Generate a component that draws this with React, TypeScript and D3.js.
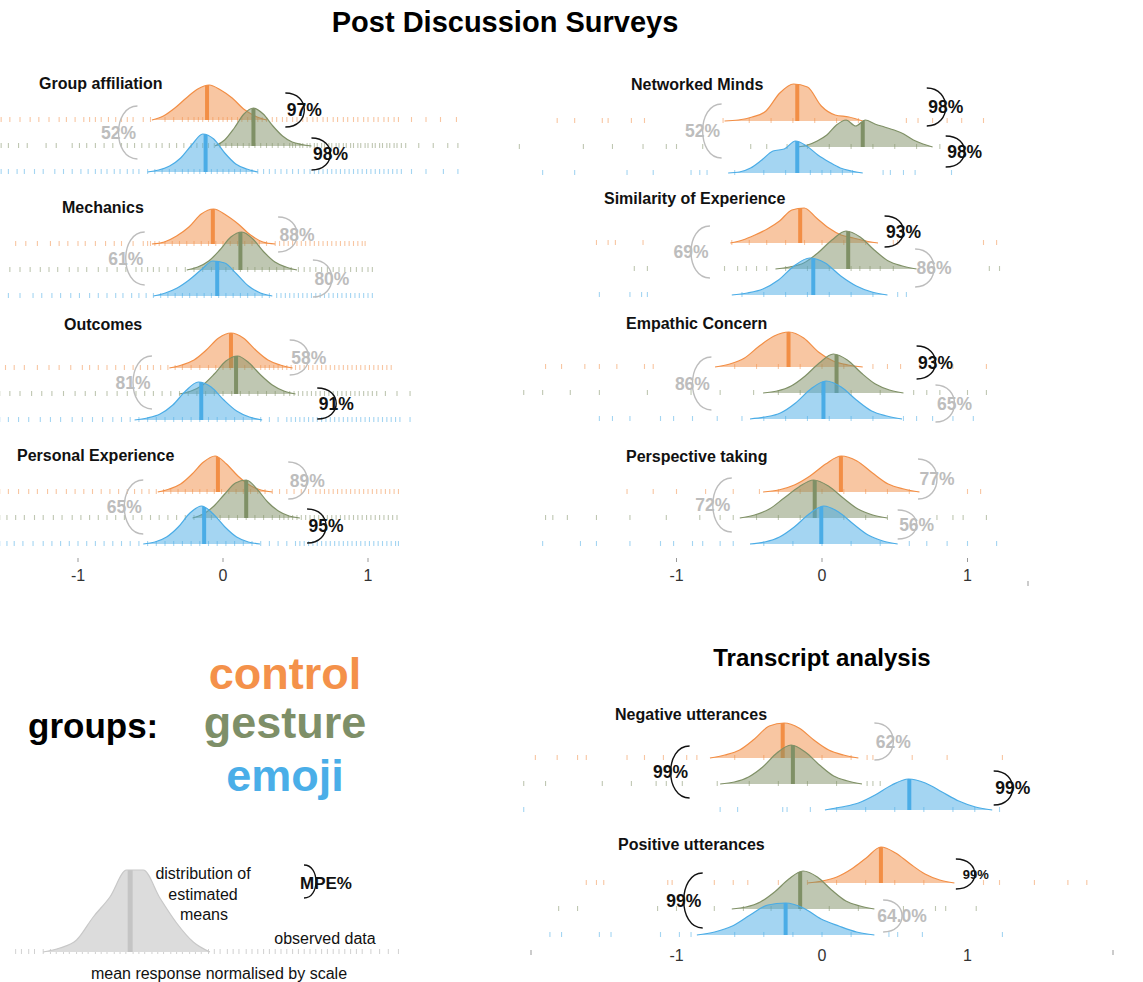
import React from 'react';
import * as d3 from 'd3';

// ---------------- DATA ----------------
const panelNames = [
  'Group affiliation', 'Mechanics', 'Outcomes', 'Personal Experience',
  'Networked Minds', 'Similarity of Experience', 'Empathic Concern', 'Perspective taking',
  'Negative utterances', 'Positive utterances',
];
const groupNames = ['control', 'gesture', 'emoji'];

// posterior means (normalised response)
const meanControl = [-0.11, -0.07, 0.055, -0.035, -0.17, -0.15, -0.23, 0.13, -0.27, 0.405];
const meanGesture = [0.21, 0.12, 0.09, 0.16, 0.28, 0.18, 0.10, -0.05, -0.20, -0.15];
const meanEmoji = [-0.12, -0.04, -0.15, -0.13, -0.17, -0.06, 0.01, -0.005, 0.60, -0.25];

// support of the estimated-mean distributions [lo, hi]
const rangeControl = [[-0.49, 0.30], [-0.49, 0.36], [-0.37, 0.48], [-0.45, 0.34], [-0.67, 0.28], [-0.63, 0.385], [-0.735, 0.28], [-0.405, 0.67], [-0.77, 0.25], [-0.10, 0.91]];
const rangeGesture = [[-0.055, 0.61], [-0.25, 0.51], [-0.30, 0.50], [-0.21, 0.53], [-0.165, 0.76], [-0.32, 0.65], [-0.405, 0.56], [-0.565, 0.45], [-0.70, 0.275], [-0.62, 0.36]];
const rangeEmoji = [[-0.52, 0.24], [-0.48, 0.34], [-0.61, 0.27], [-0.55, 0.255], [-0.645, 0.28], [-0.62, 0.45], [-0.495, 0.55], [-0.495, 0.52], [0.02, 1.17], [-0.86, 0.36]];

// density values, evenly spaced across each support
const densControl = [
  [0, 0.4, 1.2, 2.2, 3.1, 3.5, 3.0, 2.2, 1.1, 0.4, 0],
  [0, 0.2, 0.8, 1.7, 3.0, 3.5, 2.9, 2.0, 0.9, 0.2, 0],
  [0, 0.3, 0.8, 1.8, 3.0, 3.5, 3.0, 1.8, 0.8, 0.3, 0],
  [0, 0.3, 0.8, 1.8, 3.0, 3.6, 2.8, 1.6, 0.7, 0.2, 0],
  [0, 0.1, 0.4, 1.0, 2.8, 3.7, 3.4, 1.5, 0.6, 0.4, 0],
  [0, 0.3, 0.8, 1.4, 2.2, 3.3, 3.5, 2.5, 1.5, 0.8, 0.5, 0.2, 0],
  [0, 0.3, 0.9, 2.1, 3.1, 3.5, 2.9, 1.5, 0.6, 0.2, 0],
  [0, 0.2, 0.7, 1.6, 2.8, 3.6, 3.1, 1.9, 0.8, 0.3, 0],
  [0, 0.3, 0.8, 1.9, 3.2, 3.5, 3.0, 1.8, 0.8, 0.3, 0],
  [0, 0.2, 0.6, 1.4, 2.5, 3.6, 3.0, 1.9, 0.9, 0.3, 0],
];
const densGesture = [
  [0, 0.6, 1.8, 3.2, 3.8, 3.2, 2.0, 1.0, 0.4, 0.15, 0],
  [0, 0.3, 0.9, 2.0, 3.3, 3.8, 3.1, 1.8, 0.8, 0.3, 0],
  [0, 0.3, 0.9, 2.0, 3.3, 3.8, 3.1, 1.9, 0.9, 0.3, 0],
  [0, 0.4, 1.2, 2.4, 3.5, 3.8, 2.9, 1.6, 0.7, 0.2, 0],
  [0, 0.2, 0.6, 1.2, 2.2, 2.7, 2.1, 2.7, 2.3, 2.0, 1.7, 1.3, 0.7, 0.3, 0],
  [0, 0.2, 0.6, 1.6, 2.9, 3.8, 3.2, 1.9, 0.8, 0.3, 0],
  [0, 0.2, 0.7, 1.7, 3.0, 3.9, 3.3, 2.0, 0.9, 0.3, 0],
  [0, 0.3, 0.9, 2.0, 3.1, 3.8, 3.2, 2.0, 0.9, 0.3, 0],
  [0, 0.2, 0.7, 1.7, 3.1, 3.9, 3.2, 1.9, 0.8, 0.3, 0],
  [0, 0.2, 0.7, 1.7, 3.0, 3.8, 3.2, 1.9, 0.8, 0.3, 0],
];
const densEmoji = [
  [0, 0.2, 0.6, 1.4, 2.7, 3.8, 3.3, 1.9, 0.8, 0.3, 0],
  [0, 0.3, 0.8, 1.6, 2.6, 3.5, 3.3, 2.2, 1.0, 0.3, 0],
  [0, 0.2, 0.6, 1.5, 2.9, 3.8, 3.3, 2.0, 0.9, 0.3, 0],
  [0, 0.2, 0.7, 1.7, 3.1, 3.8, 3.0, 1.7, 0.7, 0.2, 0],
  [0, 0.1, 0.5, 1.3, 2.2, 2.4, 3.2, 2.7, 1.8, 1.1, 0.5, 0.2, 0],
  [0, 0.2, 0.6, 1.5, 2.9, 3.7, 3.2, 1.9, 0.9, 0.3, 0],
  [0, 0.2, 0.6, 1.6, 3.0, 3.8, 3.2, 1.9, 0.8, 0.3, 0],
  [0, 0.2, 0.7, 1.7, 3.0, 3.8, 3.2, 2.0, 0.9, 0.3, 0],
  [0, 0.3, 0.7, 1.5, 2.5, 3.1, 2.7, 1.8, 0.9, 0.3, 0],
  [0, 0.3, 0.9, 2.0, 3.0, 3.2, 2.7, 1.6, 0.9, 0.3, 0],
];

// MPE labels: control-gesture, gesture-emoji, control-emoji
const mpeControlGesture = ['97%', '88%', '58%', '89%', '98%', '93%', '93%', '77%', '62%', '99%'];
const mpeGestureEmoji = ['98%', '80%', '91%', '95%', '98%', '86%', '65%', '56%', '99%', '64.0%'];
const mpeControlEmoji = ['52%', '61%', '81%', '65%', '52%', '69%', '86%', '72%', '99%', '99%'];

// observed data (rug), in hundredths of the normalised response
const rugControl = [
  [-153, -147, -140, -133, -127, -120, -113, -108, -102, -96, -92, -88, -84, -79, -74, -70, -66, -62, -55, -50, -40, -34, -28, -24, -20, -17, -14, -10, -7, -3, 0, 3, 6, 10, 13, 17, 20, 24, 27, 30, 34, 37, 41, 44, 48, 51, 55, 58, 62, 65, 69, 72, 76, 79, 83, 86, 90, 93, 97, 100, 104, 107, 111, 114, 118, 121, 130, 140, 150, 161],
  [-143, -136, -128, -119, -113, -107, -100, -95, -88, -81, -75, -70, -62, -55, -52, -50, -47, -44, -40, -35, -30, -25, -20, -15, -10, -5, 0, 5, 10, 15, 20, 25, 30, 36, 39, 42, 45, 48, 51, 54, 57, 60, 63, 66, 69, 72, 75, 78, 81, 84, 87, 90, 93, 96, 98],
  [-150, -144, -137, -128, -120, -113, -105, -97, -92, -86, -80, -74, -68, -62, -57, -52, -48, -43, -38, -33, -28, -22, -16, -10, -5, 0, 5, 10, 15, 20, 26, 29, 32, 35, 38, 41, 44, 47, 50, 53, 56, 59, 62, 65, 68, 71, 74, 77, 80, 83, 86, 89, 92, 95, 98, 101, 104, 107, 110, 113, 116],
  [-154, -148, -141, -134, -128, -121, -115, -108, -102, -96, -90, -84, -78, -72, -66, -61, -56, -51, -46, -41, -36, -31, -26, -21, -16, -11, -6, -1, 4, 9, 14, 19, 24, 29, 34, 39, 44, 49, 54, 59, 64, 67, 70, 73, 76, 79, 82, 85, 88, 91, 94, 97, 100, 103, 106, 109, 112, 115, 118, 121],
  [-182, -170, -151, -147, -131, -122, -68, -50, -35, -20, -5, 10, 25, 58, 66, 76, 86, 96, 111],
  [-155, -147, -142, -123, -62, -50, -38, -25, -12, 0, 15, 30, 49, 52, 111, 120],
  [-190, -179, -163, -153, -141, -122, -116, -60, -45, -30, -15, 0, 15, 35, 45, 54, 67, 90, 113],
  [-134, -116, -100, -80, -61, -43, -30, -15, 0, 15, 30, 45, 60, 100, 109],
  [-197, -182, -168, -162, -134, -122, -109, -93, -86, -60, -40, -20, 0, 20, 31, 35, 62, 86, 124],
  [-162, -155, -150, -106, -103, -74, -61, -51, -30, -10, 10, 30, 50, 70, 111, 122, 146, 169, 182],
];
const rugGesture = [
  [-153, -148, -141, -135, -122, -115, -104, -99, -94, -88, -82, -76, -70, -66, -61, -56, -51, -46, -42, -37, -32, -27, -22, -18, -14, -10, -6, -2, 2, 6, 10, 14, 18, 22, 26, 30, 34, 38, 42, 46, 48, 50, 53, 55, 58, 60, 63, 65, 68, 70, 73, 75, 78, 80, 83, 85, 88, 90, 93, 95, 98, 100, 103, 105, 108, 110, 113, 115, 118, 120, 123, 126, 135, 145, 155, 162],
  [-147, -140, -133, -126, -120, -114, -106, -100, -94, -86, -80, -73, -67, -60, -56, -52, -48, -44, -38, -32, -26, -20, -14, -8, -3, 2, 7, 12, 17, 22, 27, 32, 37, 42, 47, 52, 56, 60, 64, 68, 72, 76, 80, 84, 88, 92, 96, 100, 103],
  [-154, -147, -140, -132, -125, -118, -110, -102, -95, -88, -80, -73, -66, -60, -54, -48, -42, -36, -30, -24, -18, -12, -6, 0, 6, 12, 18, 24, 30, 36, 42, 46, 49, 52, 55, 58, 61, 64, 67, 70, 73, 76, 79, 82, 85, 88, 91, 94, 97, 100, 103, 106, 112, 120, 129],
  [-154, -149, -143, -137, -130, -124, -117, -111, -104, -98, -92, -86, -80, -74, -68, -62, -56, -50, -44, -38, -32, -26, -20, -14, -8, -2, 4, 10, 16, 22, 28, 34, 39, 42, 45, 48, 51, 54, 57, 60, 63, 66, 69, 72, 75, 78, 81, 84, 87, 90, 93, 96, 99, 102, 105, 108, 111, 114, 117, 120],
  [-208, -164, -144, -123, -107, -100, -82, -49, -38, -24, -10, 5, 20, 35, 50, 65, 81],
  [-129, -120, -67, -58, -52, -45, -38, -25, -10, 5, 20, 26, 33, 40, 49, 115, 122],
  [-205, -192, -173, -153, -120, -90, -70, -47, -30, -15, 0, 20, 40, 63, 72, 81, 100, 113],
  [-190, -185, -175, -155, -132, -107, -84, -70, -61, -45, -30, -15, 0, 15, 30, 45, 79, 90, 97, 113],
  [-205, -190, -151, -131, -114, -107, -96, -72, -50, -30, -10, 10, 31, 35, 40],
  [-181, -168, -113, -100, -74, -54, -35, -15, 5, 25, 56, 78, 85, 106],
];
const rugEmoji = [
  [-153, -148, -142, -137, -130, -124, -116, -110, -104, -98, -93, -88, -84, -80, -75, -71, -66, -62, -58, -52, -47, -42, -37, -33, -28, -24, -20, -16, -12, -8, -4, 0, 4, 8, 12, 16, 20, 24, 28, 32, 36, 40, 44, 48, 52, 56, 60, 63, 66, 69, 72, 75, 78, 81, 84, 87, 90, 93, 96, 99, 102, 105, 108, 111, 114, 117, 120, 123, 130, 140, 152, 162],
  [-148, -140, -131, -125, -118, -112, -105, -99, -92, -86, -80, -74, -69, -63, -58, -53, -48, -43, -38, -33, -28, -23, -18, -13, -8, -3, 2, 7, 12, 17, 22, 27, 32, 37, 40, 43, 46, 49, 52, 55, 58, 61, 64, 67, 70, 73, 76, 79, 82, 85, 88, 91, 94, 97, 100, 103],
  [-154, -148, -141, -134, -126, -119, -112, -104, -97, -90, -83, -76, -70, -64, -58, -52, -46, -40, -34, -28, -22, -16, -10, -4, 2, 8, 14, 20, 26, 32, 38, 44, 47, 50, 53, 56, 59, 62, 65, 68, 71, 74, 77, 80, 83, 86, 89, 92, 95, 98, 101, 104, 107, 110, 113, 116, 119, 122, 129],
  [-154, -149, -144, -138, -131, -124, -118, -112, -106, -100, -94, -88, -82, -76, -70, -64, -58, -52, -46, -40, -34, -28, -22, -16, -10, -4, 2, 8, 14, 20, 26, 32, 38, 44, 50, 53, 56, 59, 62, 65, 68, 71, 74, 77, 80, 83, 86, 89, 92, 95, 98, 101, 104, 107, 110, 113, 116, 119, 121],
  [-192, -170, -134, -116, -90, -84, -79, -60, -40, -25, -8, 0, 6, 14, 21, 42, 47, 56, 64, 89],
  [-153, -132, -124, -120, -55, -40, -25, -10, 5, 20, 35, 52, 58],
  [-153, -144, -132, -111, -102, -89, -72, -55, -40, -25, -10, 5, 20, 35, 56, 65, 76, 90, 104],
  [-192, -166, -155, -132, -111, -102, -89, -82, -70, -61, -40, -20, 0, 20, 40, 60, 72, 86, 100, 120],
  [-205, -70, -58, -27, -24, -8, 10, 30, 50, 70, 90, 105, 122],
  [-187, -179, -153, -145, -111, -98, -90, -60, -40, -20, 0, 20, 46, 52, 69, 124],
];

// legend example distribution
const legendRange = [-1.24, -0.09];
const legendMean = -0.64;
const legendDens = [0, 0.4, 1.2, 3.5, 5.5, 8.2, 8.2, 5.4, 2.9, 1.0, 0];
const legendRug = [-143, -139, -134, -130, -124, -119, -115, -110, -106, -101, -97, -93, -88, -84, -80, -75, -71, -67, -62, -58, -54, -49, -45, -41, -36, -32, -28, -23, -19, -15, -10, -6, -2, 3, 7, 11, 16, 20, 24, 28, 32, 36, 40, 44, 48, 52, 56, 60, 64, 68, 72, 76, 80, 84, 88, 92, 96, 102, 108, 114, 121];
const axisTicks = [-1, 0, 1];

// ---------------- LAYOUT / STYLE ----------------
const FONT = '"Liberation Sans", Arial, Helvetica, sans-serif';
const STYLE = {
  control: { stroke: '#F28E45', text: '#F4914A' },
  gesture: { stroke: '#7F9066', text: '#7E8F68' },
  emoji: { stroke: '#4AACE6', text: '#4AAEE8' },
};
const ROW_GAP = 26;
// bracket layout: [x0 in data units, y1 offset, y2 offset] for top, bottom, left brackets
const LAYOUT = [
  { col: 'L', base: 120, title: [39, 83], br: [[0.43, -27, 7], [0.61, 18, 50], [-0.59, -14, 39]] },
  { col: 'L', base: 244, title: [62, 207], br: [[0.38, -27, 8], [0.62, 16, 53], [-0.54, -12, 41]] },
  { col: 'L', base: 368, title: [64, 324], br: [[0.46, -28, 7], [0.65, 20, 51], [-0.49, -12, 41]] },
  { col: 'L', base: 492, title: [17, 455], br: [[0.45, -30, 7], [0.58, 17, 51], [-0.55, -12, 42]] },
  { col: 'R', base: 121, title: [631, 84], br: [[0.72, -33, 5], [0.85, 15, 46], [-0.69, -17, 37]] },
  { col: 'R', base: 243, title: [604, 198], br: [[0.43, -27, 4], [0.64, 6, 44], [-0.77, -17, 35]] },
  { col: 'R', base: 367, title: [626, 323], br: [[0.65, -21, 12], [0.78, 18, 55], [-0.76, -10, 43]] },
  { col: 'R', base: 492, title: [626, 456], br: [[0.66, -33, 7], [0.52, 18, 47], [-0.62, -14, 40]] },
  { col: 'R', base: 758, title: [615, 714], br: [[0.36, -35, 2], [1.18, 13, 47], [-0.91, -12, 40]] },
  { col: 'R', base: 883, title: [618, 844], br: [[0.92, -24, 6], [0.42, 17, 49], [-0.82, -10, 45]], smallTop: true },
];

function bracketPath(x0: number, y1: number, y2: number, w: number) {
  const k = 1.33 * w;
  return `M${x0},${y1} C${x0 + k},${y1} ${x0 + k},${y2} ${x0},${y2}`;
}

export default function App() {
  const xL = d3.scaleLinear().domain([-1, 1]).range([78, 368]);
  const xR = d3.scaleLinear().domain([-1, 1]).range([676.5, 967.5]);
  const yD = d3.scaleLinear().domain([0, 1]).range([0, 10]);

  const groups = [
    { key: 'control', means: meanControl, ranges: rangeControl, dens: densControl, rugs: rugControl },
    { key: 'gesture', means: meanGesture, ranges: rangeGesture, dens: densGesture, rugs: rugGesture },
    { key: 'emoji', means: meanEmoji, ranges: rangeEmoji, dens: densEmoji, rugs: rugEmoji },
  ];

  const densityPoints = (range: number[], dens: number[]) =>
    dens.map((h, i) => ({ v: range[0] + ((range[1] - range[0]) * i) / (dens.length - 1), h }));

  const makeArea = (x: d3.ScaleLinear<number, number>, base: number) =>
    d3.area<{ v: number; h: number }>()
      .x((d) => x(d.v))
      .y0(base)
      .y1((d) => base - yD(d.h))
      .curve(d3.curveMonotoneX);
  const makeLine = (x: d3.ScaleLinear<number, number>, base: number) =>
    d3.line<{ v: number; h: number }>()
      .x((d) => x(d.v))
      .y((d) => base - yD(d.h))
      .curve(d3.curveMonotoneX);

  const mpeColor = (s: string) => (parseFloat(s) >= 90 ? '#111' : '#BDBDBD');

  const panels = LAYOUT.map((lay, p) => {
    const x = lay.col === 'L' ? xL : xR;
    const rowsY = groups.map((_, gi) => lay.base + gi * ROW_GAP);
    const labels = [mpeControlGesture[p], mpeGestureEmoji[p], mpeControlEmoji[p]];
    return (
      <g key={p}>
        {/* rugs */}
        {groups.map((g, gi) => (
          <g key={'rug' + gi} stroke={STYLE[g.key].stroke} strokeOpacity={0.5} strokeWidth={1.1}>
            {g.rugs[p].map((r, i) => (
              <line key={i} x1={x(r / 100)} x2={x(r / 100)} y1={rowsY[gi] - 3} y2={rowsY[gi] + 2} />
            ))}
          </g>
        ))}
        {/* densities */}
        {groups.map((g, gi) => {
          const base = rowsY[gi];
          const pts = densityPoints(g.ranges[p], g.dens[p]);
          const areaD = makeArea(x, base)(pts) || '';
          const lineD = makeLine(x, base)(pts) || '';
          const clipId = `clip-${p}-${gi}`;
          const col = STYLE[g.key].stroke;
          return (
            <g key={'d' + gi}>
              <clipPath id={clipId}><path d={areaD} /></clipPath>
              <path d={areaD} fill={col} fillOpacity={0.5} />
              <line x1={x(g.means[p])} x2={x(g.means[p])} y1={base} y2={base - 60}
                stroke={col} strokeWidth={4} clipPath={`url(#${clipId})`} />
              <path d={lineD} fill="none" stroke={col} strokeWidth={1.2} />
            </g>
          );
        })}
        {/* MPE brackets */}
        {lay.br.map((b, bi) => {
          const w = bi === 2 ? -19 : 19;
          const x0 = x(b[0]);
          const y1 = lay.base + b[1];
          const y2 = lay.base + b[2];
          const c = mpeColor(labels[bi]);
          const small = bi === 0 && lay.smallTop;
          return (
            <g key={'b' + bi}>
              <path d={bracketPath(x0, y1, y2, w)} fill="none" stroke={c} strokeWidth={1.4} />
              <text x={x0 + w + (small ? 1 : 0)} y={(y1 + y2) / 2 + (small ? 5 : 6)} textAnchor="middle"
                fontFamily={FONT} fontWeight="bold" fontSize={small ? 13 : 17.5} fill={c}>{labels[bi]}</text>
            </g>
          );
        })}
        <text x={lay.title[0]} y={lay.title[1] + 6} fontFamily={FONT} fontWeight="bold" fontSize={16} fill="#111">
          {panelNames[p]}
        </text>
      </g>
    );
  });

  // legend
  const legPts = densityPoints(legendRange, legendDens);
  const legBase = 952;
  const legArea = makeArea(xL, legBase)(legPts) || '';
  const legLine = makeLine(xL, legBase)(legPts) || '';

  return (
    <div style={{ position: 'absolute', left: 0, top: 0 }}>
      <svg width={1143} height={982} style={{ display: 'block', background: '#fff' }}>
        <text x={505} y={32} textAnchor="middle" fontFamily={FONT} fontWeight="bold" fontSize={29} fill="#000">
          Post Discussion Surveys
        </text>
        <text x={822} y={666} textAnchor="middle" fontFamily={FONT} fontWeight="bold" fontSize={24} fill="#000">
          Transcript analysis
        </text>
        {panels}
        {/* axes */}
        {[xL, xR].map((x, ai) => (
          <g key={'ax' + ai}>
            {axisTicks.map((t) => (
              <g key={t}>
                <line x1={x(t)} x2={x(t)} y1={558} y2={562} stroke="#999" strokeWidth={1} />
                <text x={x(t)} y={581} textAnchor="middle" fontFamily={FONT} fontSize={16} fill="#333">{t}</text>
              </g>
            ))}
          </g>
        ))}
        <line x1={1028} x2={1028} y1={581} y2={586} stroke="#999" strokeWidth={1} />
        <g>
          {axisTicks.map((t) => (
            <text key={t} x={xR(t)} y={961} textAnchor="middle" fontFamily={FONT} fontSize={16} fill="#333">{t}</text>
          ))}
          {[-2, 2].map((t) => (
            <line key={t} x1={xR(t)} x2={xR(t)} y1={950} y2={955} stroke="#999" strokeWidth={1} />
          ))}
        </g>
        {/* group legend */}
        <text x={28} y={738} fontFamily={FONT} fontWeight="bold" fontSize={35} fill="#000">groups:</text>
        {groupNames.map((g, i) => (
          <text key={g} x={285} y={[689, 738, 791][i]} textAnchor="middle" fontFamily={FONT} fontWeight="bold"
            fontSize={45} fill={STYLE[g].text}>{g}</text>
        ))}
        {/* example legend */}
        <g stroke="#BDBDBD" strokeOpacity={0.7} strokeWidth={1}>
          {legendRug.map((r, i) => (
            <line key={i} x1={xL(r / 100)} x2={xL(r / 100)} y1={legBase - 3} y2={legBase + 2} />
          ))}
        </g>
        <clipPath id="clip-leg"><path d={legArea} /></clipPath>
        <path d={legArea} fill="#DCDCDC" />
        <line x1={xL(legendMean)} x2={xL(legendMean)} y1={legBase} y2={legBase - 100} stroke="#C4C4C4"
          strokeWidth={5} clipPath="url(#clip-leg)" />
        <path d={legLine} fill="none" stroke="#C8C8C8" strokeWidth={1.2} />
        <g fontFamily={FONT} fontSize={16} fill="#111" textAnchor="middle">
          <text x={203} y={879}>distribution of</text>
          <text x={203} y={900}>estimated</text>
          <text x={204} y={920}>means</text>
          <text x={325} y={944}>observed data</text>
          <text x={219} y={979}>mean response normalised by scale</text>
        </g>
        <path d={bracketPath(304, 865, 898, 12)} fill="none" stroke="#111" strokeWidth={1.3} />
        <text x={326} y={889} textAnchor="middle" fontFamily={FONT} fontWeight="bold" fontSize={17} fill="#111">MPE%</text>
      </svg>
    </div>
  );
}
